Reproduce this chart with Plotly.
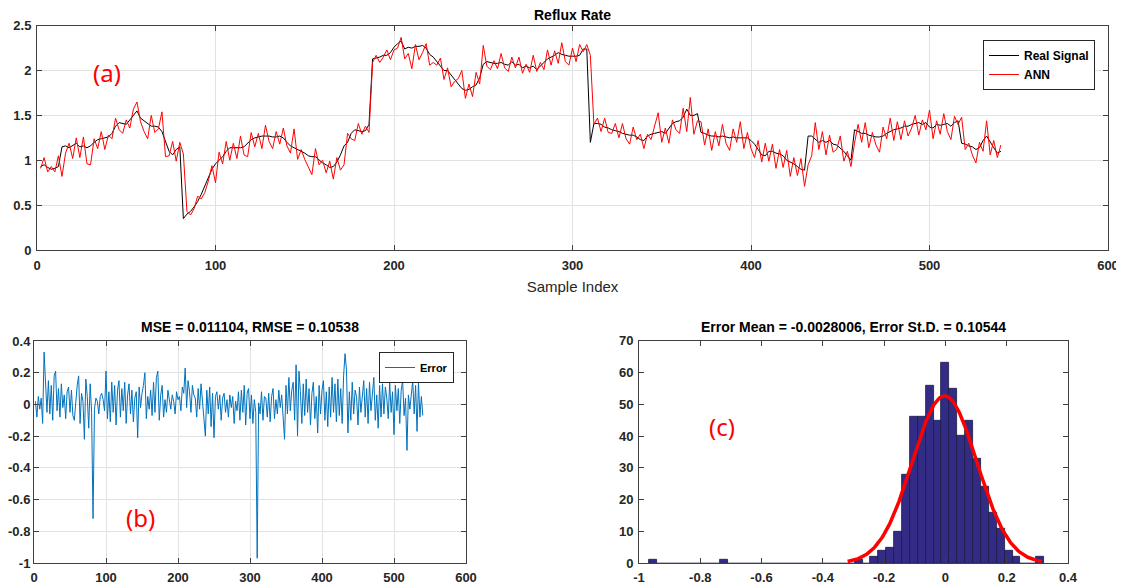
import numpy as np
import plotly.graph_objects as go

# ---------------- data ----------------
sample_index = list(range(2, 541, 2))

real_signal = [
    0.93, 0.95, 0.92, 0.90, 0.91, 0.93, 1.15, 1.16, 1.14, 1.17,
    1.19, 1.15, 1.16, 1.14, 1.16, 1.20, 1.23, 1.24, 1.25, 1.26,
    1.30, 1.38, 1.42, 1.41, 1.40, 1.45, 1.50, 1.55, 1.47, 1.44,
    1.42, 1.38, 1.38, 1.37, 1.32, 1.20, 1.10, 1.06, 1.12, 1.15,
    0.35, 0.40, 0.43, 0.48, 0.54, 0.62, 0.71, 0.80, 0.90, 0.96,
    1.00, 1.04, 1.10, 1.14, 1.14, 1.14, 1.14, 1.15, 1.19, 1.23,
    1.25, 1.26, 1.27, 1.27, 1.27, 1.26, 1.26, 1.27, 1.25, 1.20,
    1.16, 1.14, 1.12, 1.10, 1.08, 1.05, 1.04, 1.04, 1.00, 0.97,
    0.95, 0.92, 0.93, 0.98, 1.06, 1.16, 1.20, 1.30, 1.34, 1.33,
    1.32, 1.33, 1.40, 2.13, 2.14, 2.15, 2.17, 2.17, 2.20, 2.26,
    2.30, 2.33, 2.24, 2.26, 2.25, 2.27, 2.27, 2.28, 2.25, 2.18,
    2.15, 2.10, 2.06, 2.00, 2.00, 1.95, 1.90, 1.84, 1.80, 1.78,
    1.79, 1.82, 1.84, 1.92, 2.07, 2.10, 2.09, 2.08, 2.08, 2.09,
    2.07, 2.06, 2.10, 2.06, 2.07, 2.03, 2.05, 2.03, 2.05, 2.01,
    2.05, 2.09, 2.13, 2.15, 2.17, 2.20, 2.18, 2.17, 2.16, 2.16,
    2.16, 2.17, 2.24, 2.24, 1.20, 1.41, 1.41, 1.40, 1.37, 1.36,
    1.34, 1.33, 1.32, 1.30, 1.29, 1.28, 1.28, 1.26, 1.23, 1.22,
    1.27, 1.29, 1.30, 1.31, 1.32, 1.30, 1.36, 1.41, 1.43, 1.44,
    1.48, 1.57, 1.50, 1.50, 1.52, 1.31, 1.30, 1.28, 1.27, 1.27,
    1.26, 1.27, 1.26, 1.25, 1.26, 1.25, 1.25, 1.25, 1.25, 1.22,
    1.18, 1.12, 1.06, 1.05, 1.10, 1.10, 1.08, 1.07, 1.05, 1.00,
    0.98, 0.96, 0.93, 0.90, 0.89, 1.27, 1.27, 1.24, 1.20, 1.22,
    1.20, 1.22, 1.18, 1.17, 1.14, 1.10, 1.05, 1.00, 1.34, 1.32,
    1.30, 1.30, 1.28, 1.27, 1.26, 1.26, 1.27, 1.30, 1.32, 1.34,
    1.35, 1.36, 1.38, 1.38, 1.40, 1.41, 1.42, 1.40, 1.42, 1.37,
    1.36, 1.40, 1.39, 1.40, 1.41, 1.38, 1.42, 1.44, 1.19, 1.18,
    1.16, 1.15, 1.12, 1.14, 1.22, 1.27, 1.20, 1.14, 1.08, 1.10,
]

# error = real - ANN
error_values = [
    0.02, -0.08, 0.05, -0.03, 0.04, -0.12, 0.33, 0.08, -0.05, 0.15,
    -0.06, 0.12, -0.10, 0.18, 0.21, -0.04, 0.10, -0.08, 0.13, -0.02,
    0.06, -0.09, 0.08, 0.11, -0.05, 0.09, -0.07, -0.10, 0.04, 0.12,
    0.18, -0.12, 0.07, 0.02, -0.22, 0.16, 0.05, -0.15, 0.13, -0.05,
    -0.72, -0.03, 0.04, 0.02, -0.06, 0.05, 0.07, 0.03, -0.04, 0.21,
    -0.09, 0.08, -0.11, 0.14, -0.05, 0.12, -0.13, 0.09, 0.15, -0.08,
    0.10, -0.04, 0.14, -0.12, 0.06, 0.13, -0.06, 0.09, -0.11, 0.04,
    0.08, -0.21, 0.11, -0.02, 0.07, 0.12, 0.20, -0.09, 0.05, -0.03,
    0.09, -0.07, 0.14, -0.05, 0.17, 0.21, -0.10, 0.06, 0.12, -0.08,
    0.03, -0.05, 0.09, 0.04, -0.03, 0.06, 0.02, -0.06, 0.08, 0.03,
    0.05, -0.04, 0.11, 0.07, 0.23, -0.02, 0.15, 0.08, -0.05, 0.12,
    0.06, 0.04, -0.08, 0.10, -0.03, 0.13, 0.02, -0.07, -0.20, 0.09,
    -0.06, 0.11, -0.14, 0.07, -0.21, 0.05, 0.08, -0.03, 0.06, -0.10,
    0.04, 0.07, -0.05, 0.03, -0.08, 0.06, -0.02, 0.05, -0.12, 0.02,
    -0.04, 0.08, -0.10, 0.09, -0.05, 0.12, -0.13, 0.07, 0.10, -0.09,
    0.06, -0.12, 0.03, -0.05, -0.97, 0.01, -0.06, 0.08, -0.10, 0.05,
    0.04, -0.08, 0.07, -0.11, 0.05, 0.10, -0.09, 0.03, -0.06, 0.09,
    -0.02, 0.06, -0.08, -0.22, 0.12, -0.06, 0.17, -0.04, 0.09, 0.14,
    -0.10, 0.25, -0.20, 0.21, 0.08, -0.12, 0.13, -0.07, 0.16, -0.05,
    0.10, -0.13, 0.07, 0.14, -0.09, 0.05, -0.18, 0.12, -0.06, 0.09,
    0.15, -0.10, 0.08, -0.14, 0.11, -0.08, 0.17, -0.05, 0.13, -0.11,
    0.16, -0.07, 0.10, -0.12, 0.18, 0.32, 0.22, -0.18, 0.08, -0.10,
    0.14, -0.06, 0.09, 0.05, -0.13, 0.11, -0.05, 0.07, 0.15, -0.08,
    0.10, -0.12, 0.14, -0.04, 0.09, 0.17, -0.10, 0.06, -0.15, 0.12,
    -0.08, 0.13, -0.06, 0.11, 0.04, -0.09, 0.14, -0.05, 0.08, -0.19,
    0.12, -0.04, 0.10, -0.12, 0.09, 0.15, -0.07, 0.04, -0.29, 0.06,
    -0.03, 0.09, 0.15, -0.06, 0.12, -0.17, 0.14, -0.08, 0.05, -0.07,
]

ann_output = [round(r - e, 4) for r, e in zip(real_signal, error_values)]

# histogram of errors (50 bins)
hist_min = -0.966
hist_max = 0.322
hist_counts = [
    1, 0, 0, 0, 0, 0, 0, 0, 0, 1,
    0, 0, 0, 0, 0, 0, 0, 0, 0, 0,
    0, 0, 0, 0, 0, 0, 1, 0, 2, 4,
    5, 10, 28, 46, 46, 56, 45, 63, 55, 40,
    45, 33, 24, 16, 11, 4, 2, 0, 0, 2,
]
err_mean = -0.0028006
err_std = 0.10544
mse = 0.011104
rmse = 0.10538

top_xticks = [0, 100, 200, 300, 400, 500, 600]
top_yticks = [0, 0.5, 1, 1.5, 2, 2.5]
top_ytext = ["0", "0.5", "1", "1.5", "2", "2.5"]
err_yticks = [-1, -0.8, -0.6, -0.4, -0.2, 0, 0.2, 0.4]
err_ytext = ["-1", "-0.8", "-0.6", "-0.4", "-0.2", "0", "0.2", "0.4"]
hist_xticks = [-1, -0.8, -0.6, -0.4, -0.2, 0, 0.2, 0.4]
hist_xtext = ["-1", "-0.8", "-0.6", "-0.4", "-0.2", "0", "0.2", "0.4"]
hist_yticks = [0, 10, 20, 30, 40, 50, 60, 70]

# ---------------- derived ----------------
n_bins = len(hist_counts)
bin_w = (hist_max - hist_min) / n_bins
bin_centers = hist_min + bin_w * (np.arange(n_bins) + 0.5)
n_total = sum(hist_counts)
fit_x = np.linspace(err_mean - 3 * err_std, err_mean + 3 * err_std, 200)
fit_y = n_total * bin_w / (err_std * np.sqrt(2 * np.pi)) * np.exp(-0.5 * ((fit_x - err_mean) / err_std) ** 2)

# the page body has an 8px default margin: the figure is sized to fill the rest
OFF = 8
W, H = 1124 - OFF, 588 - OFF
FONT = "Liberation Sans, Arial, sans-serif"
TXT = "#262626"
GRID = "#E2E2E2"
AXL = "#404040"

fig = go.Figure()

fig.add_trace(go.Scatter(x=sample_index, y=real_signal, mode="lines", name="Real Signal",
                         line=dict(color="black", width=1), xaxis="x", yaxis="y", legend="legend"))
fig.add_trace(go.Scatter(x=sample_index, y=ann_output, mode="lines", name="ANN",
                         line=dict(color="#FF0000", width=1), xaxis="x", yaxis="y", legend="legend"))
fig.add_trace(go.Scatter(x=sample_index, y=error_values, mode="lines", name="Error",
                         line=dict(color="#0072BD", width=1), xaxis="x2", yaxis="y2", legend="legend2"))
fig.add_trace(go.Bar(x=bin_centers, y=hist_counts, width=bin_w, showlegend=False,
                     marker=dict(color="#332C86", line=dict(color="#1C1C40", width=0.8)),
                     xaxis="x3", yaxis="y3"))
fig.add_trace(go.Scatter(x=fit_x, y=fit_y, mode="lines", showlegend=False,
                         line=dict(color="#FF0000", width=3.5), xaxis="x3", yaxis="y3"))


def px_x(p):
    return (p - OFF) / W


def px_y(p):
    return 1 - (p - OFF) / H


tickfont = dict(family=FONT, size=13, color=TXT, weight="bold")


def axis(domain, rng, tickvals, ticktext=None, grid=True, anchor=None, standoff=0):
    d = dict(domain=domain, range=rng, tickmode="array", tickvals=tickvals,
             showgrid=grid, gridcolor=GRID, gridwidth=1, zeroline=False,
             showline=True, linecolor=AXL, linewidth=1, mirror="ticks",
             ticks="inside", ticklen=5, tickcolor=AXL, tickfont=tickfont,
             anchor=anchor, automargin=False, ticklabelstandoff=standoff,
             ticklabeloverflow="allow")
    if ticktext is not None:
        d["ticktext"] = ticktext
    return d


fig.update_layout(
    width=W, height=H,
    margin=dict(l=0, r=0, t=0, b=0),
    paper_bgcolor="white", plot_bgcolor="white",
    bargap=0,
    xaxis=axis([px_x(37), px_x(1108)], [0, 600], top_xticks, anchor="y", standoff=3),
    yaxis=axis([px_y(250), px_y(25.7)], [0, 2.5], top_yticks, top_ytext, anchor="x", standoff=2),
    xaxis2=axis([px_x(34), px_x(466)], [0, 600], top_xticks, anchor="y2", standoff=2),
    yaxis2=axis([px_y(563), px_y(341)], [-1, 0.4], err_yticks, err_ytext, anchor="x2", standoff=0),
    xaxis3=axis([px_x(639), px_x(1068)], [-1, 0.4], hist_xticks, hist_xtext, grid=False, anchor="y3", standoff=2),
    yaxis3=axis([px_y(563.3), px_y(340.7)], [0, 70], hist_yticks, grid=False, anchor="x3", standoff=2),
    legend=dict(x=px_x(1095), y=px_y(40), xanchor="right", yanchor="top",
                bgcolor="white", bordercolor="#262626", borderwidth=1,
                font=dict(family=FONT, size=12, color="black", weight="bold"),
                tracegroupgap=0),
    legend2=dict(x=px_x(454), y=px_y(352), xanchor="right", yanchor="top",
                 bgcolor="white", bordercolor="#262626", borderwidth=1,
                 font=dict(family=FONT, size=11, color="black", weight="bold")),
    showlegend=True,
)

fig.update_xaxes(title=dict(text="Sample Index", font=dict(family=FONT, size=15, color=TXT), standoff=9),
                 selector=dict(anchor="y"))

titlefont = dict(family=FONT, size=14, color="black", weight="bold")
annots = [
    dict(text="Reflux Rate", x=px_x(572.5), y=px_y(15), font=titlefont),
    dict(text=f"MSE = {mse}, RMSE = {rmse}", x=px_x(250), y=px_y(327), font=titlefont),
    dict(text=f"Error Mean = {err_mean}, Error St.D. = {err_std}", x=px_x(853.5), y=px_y(327), font=titlefont),
    dict(text="(a)", x=px_x(107), y=px_y(72), font=dict(family="Noto Sans, sans-serif", size=24, color="#FF0000")),
    dict(text="(b)", x=px_x(140), y=px_y(517), font=dict(family="Noto Sans, sans-serif", size=24, color="#FF0000")),
    dict(text="(c)", x=px_x(722), y=px_y(427), font=dict(family="Noto Sans, sans-serif", size=24, color="#FF0000")),
]
for a in annots:
    fig.add_annotation(xref="paper", yref="paper", showarrow=False,
                       xanchor="center", yanchor="middle", **a)

fig.write_html("out.html")
